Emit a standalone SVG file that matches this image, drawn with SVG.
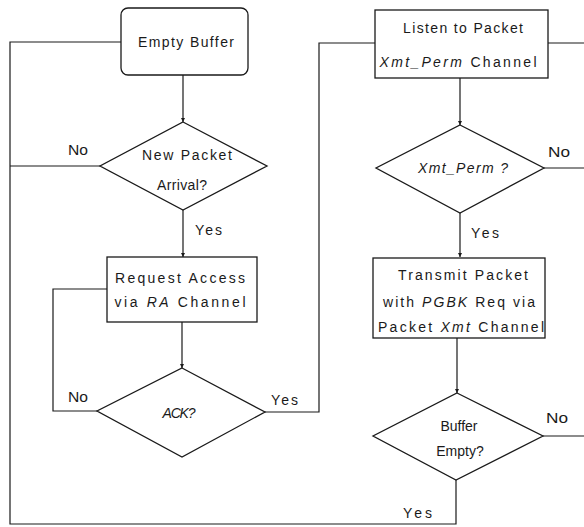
<svg xmlns="http://www.w3.org/2000/svg" width="584" height="527" viewBox="0 0 584 527">
  <style>
    .shape { fill: #ffffff; stroke: #1a1a1a; stroke-width: 1.3; }
    .wire { fill: none; stroke: #1a1a1a; stroke-width: 1.2; }
    text { font-family: "Liberation Sans", Arial, sans-serif; font-size: 14px; fill: #1a1a1a; text-anchor: middle; }
    .lbl { text-anchor: start; }
    .it { font-style: italic; }
  </style>
  <defs>
    <marker id="tip" viewBox="0 0 6 6" refX="6" refY="3" markerWidth="4" markerHeight="4" orient="auto" markerUnits="userSpaceOnUse">
      <path d="M0,0 L6,3 L0,6 Z" fill="#1a1a1a"/>
    </marker>
  </defs>

  <rect width="584" height="527" fill="#ffffff"/>

  <!-- connectors -->
  <g id="connectors">
    <!-- main column -->
    <path class="wire" d="M183,75 V122" marker-end="url(#tip)"/>
    <path class="wire" d="M183,210 V257" marker-end="url(#tip)"/>
    <path class="wire" d="M182,322 V368" marker-end="url(#tip)"/>
    <!-- New Packet? No: back to the outer loop -->
    <path class="wire" d="M100,166 H10"/>
    <!-- outer loop: Buffer Empty? Yes back to Empty Buffer -->
    <path class="wire" d="M456,480 V524 H10 V42 H121"/>
    <!-- ACK? No: retry request -->
    <path class="wire" d="M97,411 H53 V289 H107"/>
    <!-- ACK? Yes: to listen -->
    <path class="wire" d="M265,412 H319 V43 H375"/>
    <!-- right column -->
    <path class="wire" d="M460,78 V125" marker-end="url(#tip)"/>
    <path class="wire" d="M460,213 V257" marker-end="url(#tip)"/>
    <path class="wire" d="M457,338 V393" marker-end="url(#tip)"/>
    <!-- exits to the right edge -->
    <path class="wire" d="M548,43 H584"/>
    <path class="wire" d="M544,168 H584"/>
    <path class="wire" d="M543,436 H584"/>
  </g>

  <!-- connector labels -->
  <g id="labels">
    <text class="lbl" x="68" y="155" textLength="20" lengthAdjust="spacingAndGlyphs">No</text>
    <text class="lbl" x="195" y="235" textLength="27" lengthAdjust="spacing">Yes</text>
    <text class="lbl" x="68" y="402" textLength="20" lengthAdjust="spacingAndGlyphs">No</text>
    <text class="lbl" x="271" y="405" textLength="27" lengthAdjust="spacing">Yes</text>
    <text class="lbl" x="548" y="157" textLength="22" lengthAdjust="spacingAndGlyphs">No</text>
    <text class="lbl" x="471" y="238" textLength="28" lengthAdjust="spacing">Yes</text>
    <text class="lbl" x="546" y="423" textLength="22" lengthAdjust="spacingAndGlyphs">No</text>
    <text class="lbl" x="403" y="518" textLength="29" lengthAdjust="spacing">Yes</text>
  </g>

  <g id="empty-buffer">
    <rect class="shape" x="121" y="8" width="127" height="67" rx="7"/>
    <text x="186" y="47" textLength="96" lengthAdjust="spacing">Empty Buffer</text>
  </g>

  <g id="new-packet">
    <polygon class="shape" points="183,122 267,166 183,210 100,166"/>
    <text x="187" y="160" textLength="90" lengthAdjust="spacing">New Packet</text>
    <text x="182" y="190" textLength="50" lengthAdjust="spacing">Arrival?</text>
  </g>

  <g id="request-access">
    <rect class="shape" x="107" y="257" width="150" height="65"/>
    <text x="180" y="283" textLength="130" lengthAdjust="spacing">Request Access</text>
    <text x="180" y="307" textLength="131" lengthAdjust="spacing">via <tspan class="it">RA</tspan>  Channel</text>
  </g>

  <g id="ack">
    <polygon class="shape" points="182,368 265,412 182,457 97,411"/>
    <text class="it" x="179" y="418" textLength="33" lengthAdjust="spacing">ACK?</text>
  </g>

  <g id="listen">
    <rect class="shape" x="375" y="10" width="173" height="68"/>
    <text x="463" y="33" textLength="120" lengthAdjust="spacing">Listen to Packet</text>
    <text x="458" y="67" textLength="157" lengthAdjust="spacing"><tspan class="it">Xmt_Perm</tspan> Channel</text>
  </g>

  <g id="xmt-perm">
    <polygon class="shape" points="460,125 544,168 460,213 376,168"/>
    <text class="it" x="463" y="173" textLength="90" lengthAdjust="spacing">Xmt_Perm ?</text>
  </g>

  <g id="transmit">
    <rect class="shape" x="373" y="258" width="172" height="80"/>
    <text x="463" y="280" textLength="130" lengthAdjust="spacing">Transmit Packet</text>
    <text x="459" y="307" textLength="152" lengthAdjust="spacing">with <tspan class="it">PGBK</tspan>  Req via</text>
    <text x="461" y="332" textLength="166" lengthAdjust="spacing">Packet <tspan class="it">Xmt</tspan>  Channel</text>
  </g>

  <g id="buffer-empty">
    <polygon class="shape" points="457,393 543,436 456,480 373,436"/>
    <text x="459" y="431">Buffer</text>
    <text x="460" y="456">Empty?</text>
  </g>
</svg>
